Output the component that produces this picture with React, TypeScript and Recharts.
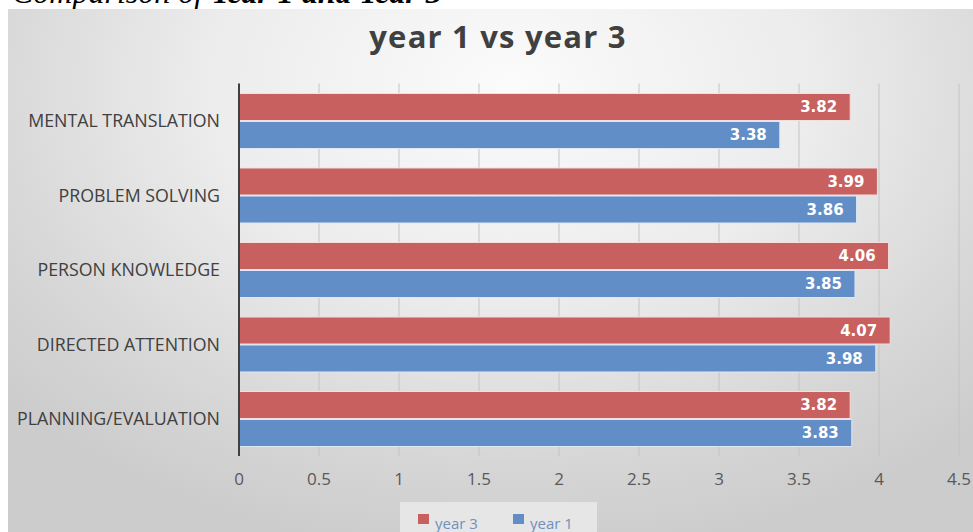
import React from "react";
import { BarChart, Bar, XAxis, YAxis, CartesianGrid, Legend, LabelList } from "recharts";

const categories = [
  "MENTAL TRANSLATION",
  "PROBLEM SOLVING",
  "PERSON KNOWLEDGE",
  "DIRECTED ATTENTION",
  "PLANNING/EVALUATION",
];
const year3 = [3.82, 3.99, 4.06, 4.07, 3.82];
const year1 = [3.38, 3.86, 3.85, 3.98, 3.83];
const xTicks = [0, 0.5, 1, 1.5, 2, 2.5, 3, 3.5, 4, 4.5];

const RED = "#c86060";
const BLUE = "#628ec8";
const FONT = "'Open Sans', Lato, sans-serif";
const LABEL_FONT = "'DejaVu Sans', Verdana, sans-serif";

const data = categories.map((name, i) => ({ name, year3: year3[i], year1: year1[i] }));

const LegendBox = () => (
  <div
    style={{
      width: 197,
      height: 30,
      background: "#e6e6e6",
      position: "relative",
      fontFamily: FONT,
      fontSize: 15,
      color: "#7090c0",
    }}
  >
    <span style={{ position: "absolute", left: 18, top: 12, width: 11, height: 10, background: RED }} />
    <span style={{ position: "absolute", left: 35, top: 12, lineHeight: "18px" }}>year 3</span>
    <span style={{ position: "absolute", left: 113, top: 12, width: 11, height: 10, background: BLUE }} />
    <span style={{ position: "absolute", left: 130, top: 12, lineHeight: "18px" }}>year 1</span>
  </div>
);

export default function App() {
  return (
    <div style={{ position: "fixed", left: 0, top: 0, width: 973, height: 532, overflow: "hidden", background: "#fff" }}>
      <svg width={973} height={12} style={{ position: "absolute", left: 0, top: 0 }}>
        <text x={12} y={3} fontFamily="'Liberation Serif', serif" fontStyle="italic" fontSize={32} fill="#000">
          Comparison of <tspan fontWeight="bold">Year 1 and Year 3</tspan>
        </text>
      </svg>
      <div
        style={{
          position: "absolute",
          left: 8,
          top: 9,
          width: 965,
          height: 523,
          background: "radial-gradient(ellipse 70% 90% at 52% 15%, #fbfbfb 0%, #ececec 45%, #d6d6d6 80%, #cccccc 100%)",
        }}
      >
        <svg width={965} height={60} style={{ position: "absolute", left: 0, top: 0, pointerEvents: "none" }}>
          <text
            x={490}
            y={39}
            textAnchor="middle"
            fontFamily={FONT}
            fontWeight="bold"
            fontSize={31}
            letterSpacing={1.2}
            fill="#404040"
          >
            year 1 vs year 3
          </text>
        </svg>
        <BarChart
          width={965}
          height={523}
          data={data}
          layout="vertical"
          margin={{ top: 74.5, right: 14, left: 0, bottom: 0 }}
          barSize={27}
          barGap={1}
        >
          <CartesianGrid horizontal={false} stroke="#c4c4c4" />
          <XAxis
            type="number"
            domain={[0, 4.5]}
            ticks={xTicks}
            axisLine={false}
            tickLine={false}
            height={46}
            tickMargin={11}
            tick={{ fontSize: 17, fill: "#595959", fontFamily: FONT }}
          />
          <YAxis
            type="category"
            dataKey="name"
            width={231}
            tickLine={false}
            axisLine={{ stroke: "#404040", strokeWidth: 2 }}
            tickMargin={13}
            tick={{ fontSize: 17.8, fill: "#404040", fontFamily: FONT }}
          />
          <Legend
            verticalAlign="bottom"
            align="left"
            height={30}
            wrapperStyle={{ left: 392, width: 197, bottom: 0 }}
            content={() => <LegendBox />}
          />
          <Bar dataKey="year3" name="year 3" fill={RED} stroke="#f4dede" strokeWidth={1} isAnimationActive={false}>
            <LabelList
              dataKey="year3"
              position="insideRight"
              offset={13}
              fill="#ffffff"
              fontWeight="bold"
              fontSize={15}
              fontFamily={LABEL_FONT}
            />
          </Bar>
          <Bar dataKey="year1" name="year 1" fill={BLUE} stroke="#dde8f6" strokeWidth={1} isAnimationActive={false}>
            <LabelList
              dataKey="year1"
              position="insideRight"
              offset={13}
              fill="#ffffff"
              fontWeight="bold"
              fontSize={15}
              fontFamily={LABEL_FONT}
            />
          </Bar>
        </BarChart>
      </div>
    </div>
  );
}
